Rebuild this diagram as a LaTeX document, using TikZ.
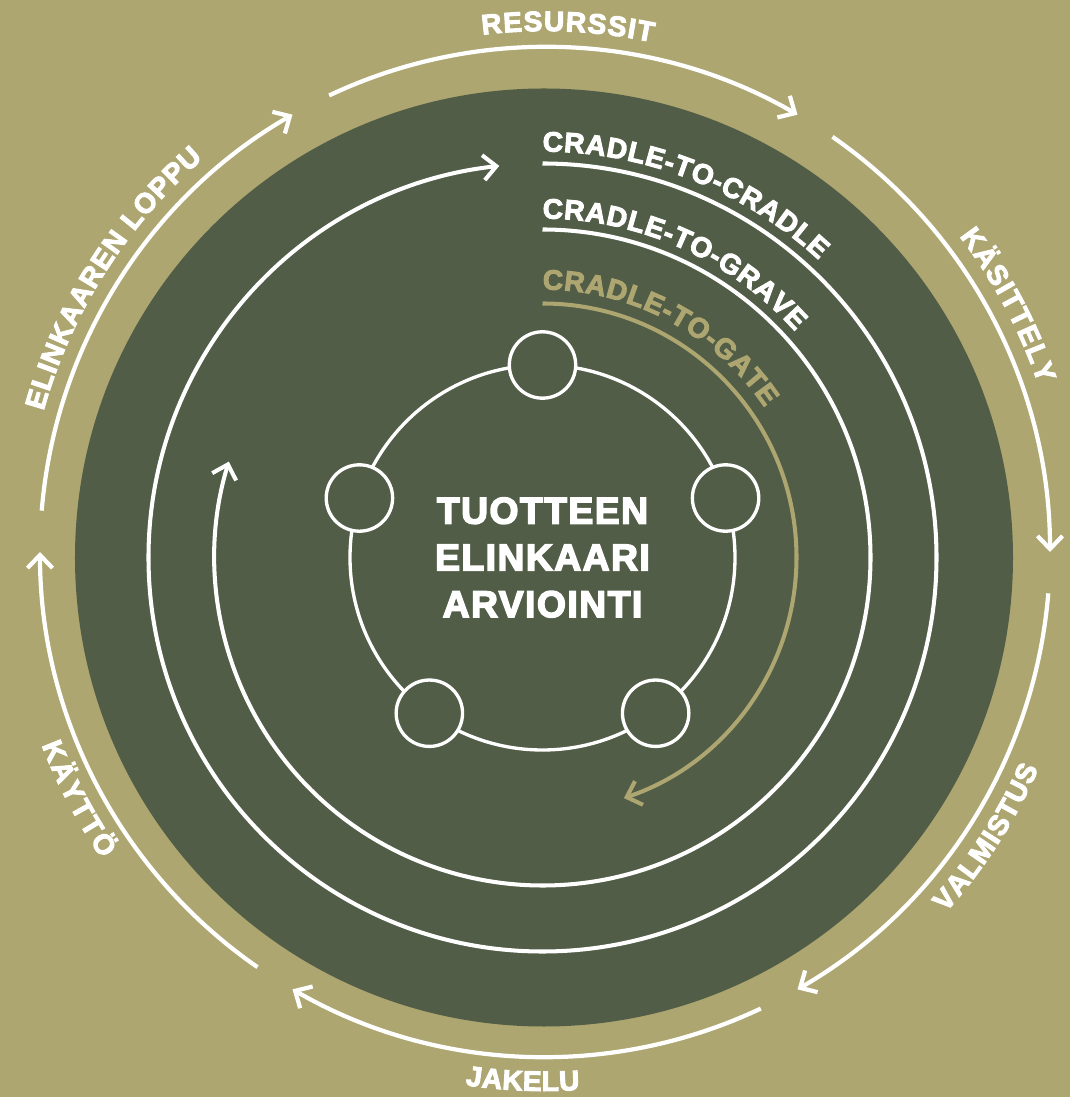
\documentclass[tikz,border=0pt]{standalone}
\usepackage{fontspec}
\setmainfont{Liberation Sans}[BoldFeatures={FakeBold=3.5}]
\newfontfamily\titlefamily{Liberation Sans}[LetterSpace=4,BoldFeatures={FakeBold=4}]
\usetikzlibrary{arrows.meta,decorations.text}

\definecolor{khaki}{RGB}{173,166,113}
\definecolor{moss}{RGB}{81,93,70}

\newcommand{\arcfont}{\bfseries\fontsize{8}{9}\selectfont}

\tikzset{
    barb/.style={-{Straight Barb[length=1.3mm,width=2.5mm]}},
    ring/.style={white,line width=1.15pt},
    arclabel/.style 2 args={decorate,decoration={text along path,text align=fit to path,text color=#1,text={|\arcfont|#2}}},
}

\begin{document}
\begin{tikzpicture}
            \path[use as bounding box,fill=khaki] (-5.425,-5.395) rectangle (5.275,5.575);

            \fill[moss] (0.015,0) circle (4.69);

            \begin{scope}[shift={(0.025,0.055)}]
                \foreach \a in {0,60,...,300}
                    \draw[white,line width=1.2pt,barb] ({115.3-\a}:5.05) arc[start angle={115.3-\a}, end angle={60-\a}, radius=5.05];

                \path[arclabel={white}{RESURSSIT}] (96.9:5.21) arc[start angle=96.9, end angle=78.1, radius=5.21];
                \path[arclabel={white}{KÄSITTELY}] (37.3:5.21) arc[start angle=37.3, end angle=18.8, radius=5.21];
                \path[arclabel={white}{ELINKAAREN LOPPU}] (164.3:5.21) arc[start angle=164.3, end angle=131, radius=5.21];
                \path[arclabel={white}{VALMISTUS}] (-42:5.39) arc[start angle=-42, end angle=-23.7, radius=5.39];
                \path[arclabel={white}{JAKELU}] (-98.5:5.39) arc[start angle=-98.5, end angle=-86.3, radius=5.39];
                \path[arclabel={white}{KÄYTTÖ}] (-159:5.39) arc[start angle=-159, end angle=-145.3, radius=5.39];
            \end{scope}

            \draw[ring,barb] (90:3.94) arc[start angle=90, end angle=-263.7, radius=3.94];
            \draw[ring,barb] (90:3.28) arc[start angle=90, end angle=-197, radius=3.28];
            \draw[ring,barb,khaki] (90:2.54) arc[start angle=90, end angle=-71.3, radius=2.54];

            \path[arclabel={white}{CRADLE-TO-CRADLE}] (90:4.06) arc[start angle=90, end angle=47.1, radius=4.06];
            \path[arclabel={white}{CRADLE-TO-GRAVE}] (90:3.39) arc[start angle=90, end angle=41.8, radius=3.39];
            \path[arclabel={khaki}{CRADLE-TO-GATE}] (90:2.68) arc[start angle=90, end angle=34, radius=2.68];

            \draw[white,line width=0.95pt] (0,0) circle (1.925);
            \foreach \a in {18,90,...,306}
                \draw[white,line width=0.95pt,fill=moss] (\a:1.925) circle (0.332);

            \node[white,align=center,font=\titlefamily\bfseries\fontsize{10.6}{13.3}\selectfont] (title) at (0,0) {TUOTTEEN\\ELINKAARI\\ARVIOINTI};

        \end{tikzpicture}
\end{document}
